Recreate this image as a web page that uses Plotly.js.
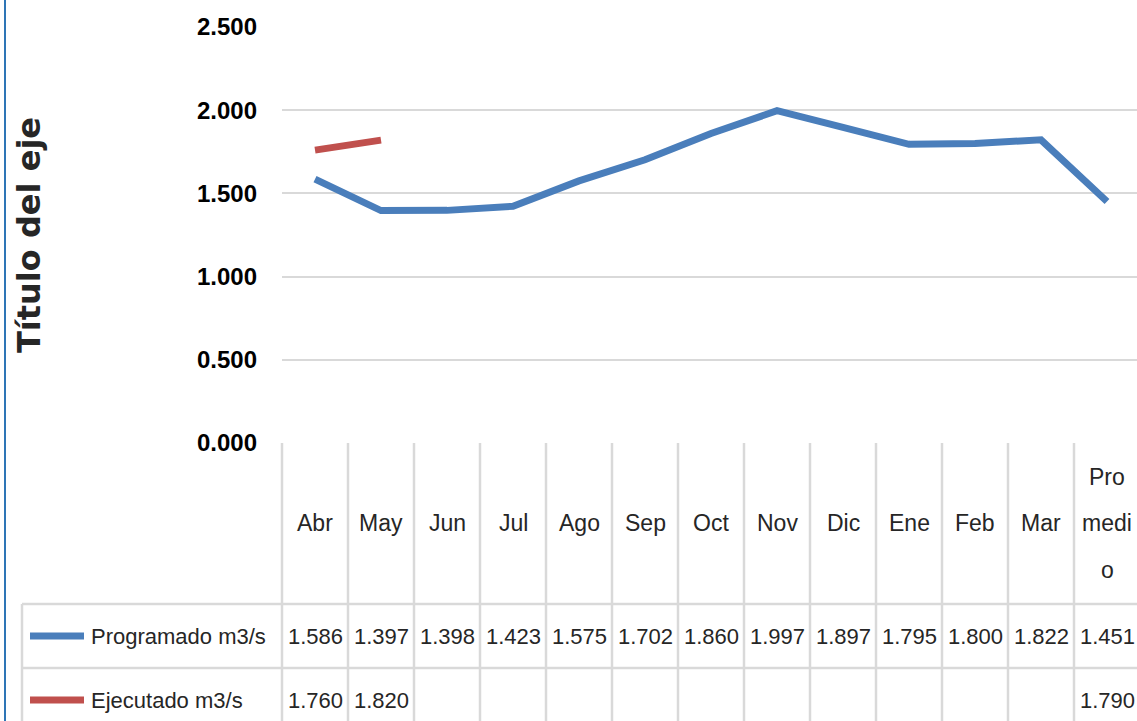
<!DOCTYPE html>
<html><head><meta charset="utf-8">
<script src="https://cdn.plot.ly/plotly-3.0.1.min.js"></script>
<style>html,body{margin:0;padding:0;overflow:hidden;background:#fff}</style>
</head>
<body><div id="chart" style="width:1137px;height:721px"></div>
<script>
const categories = ["Abr","May","Jun","Jul","Ago","Sep","Oct","Nov","Dic","Ene","Feb","Mar","Promedio"];
const categoryLabels = ["Abr","May","Jun","Jul","Ago","Sep","Oct","Nov","Dic","Ene","Feb","Mar","Pro|medi|o"];
const programado = [1.586,1.397,1.398,1.423,1.575,1.702,1.860,1.997,1.897,1.795,1.800,1.822,1.451];
const ejecutado = [1.760,1.820,null,null,null,null,null,null,null,null,null,null,1.790];
const seriesNames = ["Programado m3/s","Ejecutado m3/s"];
const seriesColors = ["#4A7EBB","#C0504D"];
const yTickVals = [0,0.5,1,1.5,2,2.5];
const yTickText = ["0.000","0.500","1.000","1.500","2.000","2.500"];
const axisTitle = "Título del eje";

const W = 1137, H = 721, L = 282, T = 27, B = 443, COL = 66;
const narrow = "Liberation Sans, Arial, sans-serif";
const gridColor = "#D9D9D9";
const txtColor = "#262626";
const xMax = -0.5 + (W - L) / COL;
const pyP = py => (B - py) / (B - T);
const pxP = px => (px - L) / (W - L);
const xP = x => (x + 0.5) * COL / (W - L);
const idx = categories.map((c, i) => i);

const traces = [
  {x: idx, y: programado, name: seriesNames[0], type: "scatter", mode: "lines",
   line: {color: seriesColors[0], width: 7}, connectgaps: false, hoverinfo: "x+y"},
  {x: idx, y: ejecutado, name: seriesNames[1], type: "scatter", mode: "lines",
   line: {color: seriesColors[1], width: 7}, connectgaps: false, hoverinfo: "x+y"}
];

const shapes = [];
const annotations = [];
for (let k = 0; k <= categories.length; k++) {
  shapes.push({type: "line", xref: "paper", yref: "paper", x0: xP(k - 0.5), x1: xP(k - 0.5),
    y0: pyP(443), y1: pyP(730), line: {color: gridColor, width: 2.5}});
}
[604, 668].forEach(py => shapes.push({type: "line", xref: "paper", yref: "paper",
  x0: pxP(22), x1: pxP(W + 5), y0: pyP(py), y1: pyP(py), line: {color: gridColor, width: 2.5}}));
shapes.push({type: "line", xref: "paper", yref: "paper", x0: pxP(22), x1: pxP(22),
  y0: pyP(604), y1: pyP(730), line: {color: gridColor, width: 2.5}});
shapes.push({type: "line", xref: "paper", yref: "paper", x0: pxP(5), x1: pxP(5),
  y0: pyP(-5), y1: pyP(730), line: {color: "#2E75B6", width: 2}});

categoryLabels.forEach((lab, i) => {
  const parts = lab.split("|");
  const centers = parts.length === 1 ? [523] : [477, 523, 570];
  parts.forEach((p, j) => annotations.push({xref: "x", yref: "paper", x: i, y: pyP(centers[j]),
    text: p, showarrow: false, xanchor: "center", yanchor: "middle",
    font: {family: narrow, size: 23, color: txtColor}}));
});
const rows = [programado, ejecutado];
const rowY = [636, 700];
rows.forEach((arr, r) => {
  arr.forEach((v, i) => {
    if (v === null) return;
    annotations.push({xref: "x", yref: "paper", x: i, y: pyP(rowY[r]), text: v.toFixed(3),
      showarrow: false, xanchor: "center", yanchor: "middle",
      font: {family: narrow, size: 22, color: txtColor}});
  });
  shapes.push({type: "line", xref: "paper", yref: "paper", x0: pxP(30), x1: pxP(84),
    y0: pyP(rowY[r]), y1: pyP(rowY[r]), line: {color: seriesColors[r], width: 7}});
  annotations.push({xref: "paper", yref: "paper", x: pxP(89), y: pyP(rowY[r]), text: seriesNames[r],
    showarrow: false, xanchor: "left", yanchor: "middle",
    font: {family: narrow, size: 22, color: txtColor}});
});
annotations.push({xref: "paper", yref: "paper", x: pxP(29), y: pyP(235), text: "<b>" + axisTitle + "</b>",
  textangle: -90, showarrow: false, xanchor: "center", yanchor: "middle",
  font: {family: "DejaVu Sans, sans-serif", size: 32, color: txtColor}});

const layout = {
  width: W, height: H,
  margin: {l: L, r: 0, t: T, b: H - B},
  paper_bgcolor: "#fff", plot_bgcolor: "#fff",
  showlegend: false,
  xaxis: {range: [-0.5, xMax], showticklabels: false, showgrid: false, zeroline: false,
    showline: false, ticks: "", fixedrange: true},
  yaxis: {range: [0, 2.5], tickvals: yTickVals, ticktext: yTickText, showgrid: true,
    gridcolor: gridColor, gridwidth: 2, zeroline: false, showline: false, ticks: "",
    ticklabelstandoff: 24, tickfont: {family: narrow, size: 24, color: "#000", weight: "bold"},
    fixedrange: true},
  shapes: shapes,
  annotations: annotations
};
Plotly.newPlot("chart", traces, layout, {displayModeBar: false, staticPlot: true});
</script>
</body></html>
